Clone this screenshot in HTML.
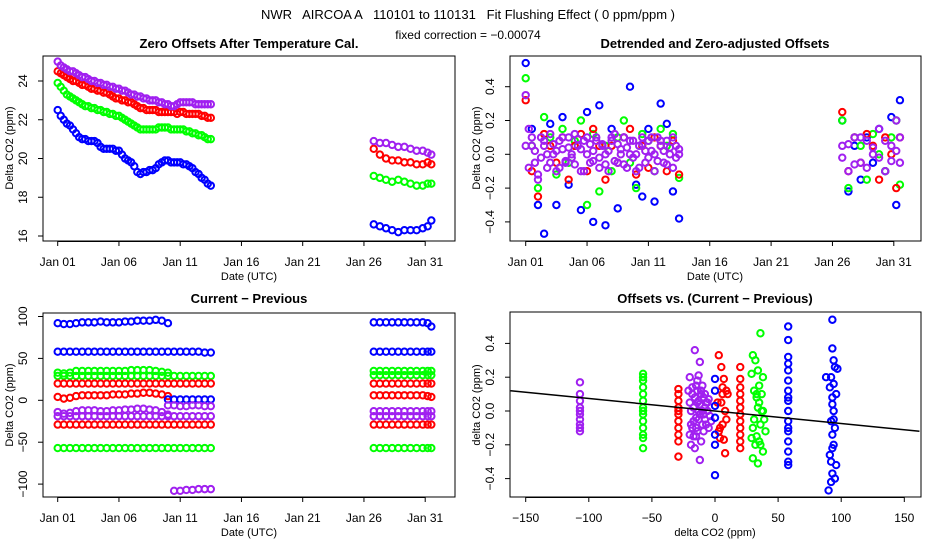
<!DOCTYPE html>
<html><head><meta charset="utf-8"><style>
html,body{margin:0;padding:0;background:#fff}
svg{display:block;font-family:"Liberation Sans",sans-serif}
</style></head><body>
<svg id="chart" width="936" height="540" viewBox="0 0 936 540" xmlns="http://www.w3.org/2000/svg">
<rect width="936" height="540" fill="#fff"/>
<text x="468" y="19" text-anchor="middle" font-size="13" xml:space="preserve">NWR   AIRCOA A   110101 to 110131   Fit Flushing Effect ( 0 ppm/ppm )</text>
<text x="468" y="39" text-anchor="middle" font-size="12">fixed correction = −0.00074</text>
<g id="g"></g>
</svg>
<script>
// ---- shared time axes (days since Jan 01) ----
const t1 = [0,0.5,1,1.5,2,2.5,3,3.5,4,4.5,5,5.5,6,6.5,7,7.5,8,8.5,9,9.5,10,10.5,11,11.5,12,12.5];
const t1a = [0,0.5,1,1.5,2,2.5,3,3.5,4,4.5,5,5.5,6,6.5,7,7.5,8,8.5,9];
const t1b = [9,9.5,10,10.5,11,11.5,12,12.5];
const t1c = [9.5,10,10.5,11,11.5,12,12.5];
const t2 = [25.8,26.3,26.8,27.3,27.8,28.3,28.8,29.3,29.8,30.2,30.5];
const tq = [0,0.25,0.5,0.75,1,1.25,1.5,1.75,2,2.25,2.5,2.75,3,3.25,3.5,3.75,4,4.25,4.5,4.75,5,5.25,5.5,5.75,6,6.25,6.5,6.75,7,7.25,7.5,7.75,8,8.25,8.5,8.75,9,9.25,9.5,9.75,10,10.25,10.5,10.75,11,11.25,11.5,11.75,12,12.25,12.5];
const dateTickDays = [0,5,10,15,20,25,30];
const dateTickLabels = ["Jan 01","Jan 06","Jan 11","Jan 16","Jan 21","Jan 26","Jan 31"];

// ---- panel 1: zero offsets ----
const p1Purple1 = [25.0,24.8,24.7,24.6,24.5,24.5,24.4,24.3,24.2,24.2,24.1,24.0,24.0,23.9,23.9,23.8,23.8,23.7,23.7,23.6,23.6,23.5,23.5,23.4,23.3,23.3,23.2,23.2,23.1,23.1,23.0,23.0,23.0,22.9,22.9,22.8,22.8,22.7,22.7,22.8,22.9,22.9,22.9,22.9,22.9,22.8,22.8,22.8,22.8,22.8,22.8];
const p1Red1 = [24.5,24.4,24.3,24.2,24.1,24.0,24.0,23.9,23.8,23.8,23.7,23.6,23.6,23.5,23.5,23.4,23.4,23.3,23.2,23.1,23.1,23.0,23.0,22.9,22.9,22.8,22.7,22.6,22.6,22.5,22.5,22.5,22.5,22.4,22.4,22.4,22.4,22.4,22.4,22.3,22.4,22.4,22.3,22.3,22.3,22.3,22.3,22.2,22.2,22.1,22.1];
const p1Green1 = [23.9,23.7,23.5,23.3,23.2,23.1,23.0,22.9,22.8,22.7,22.7,22.6,22.6,22.5,22.5,22.4,22.4,22.3,22.3,22.2,22.2,22.1,22.0,21.9,21.8,21.7,21.6,21.5,21.5,21.5,21.5,21.5,21.5,21.6,21.6,21.6,21.6,21.5,21.5,21.5,21.5,21.5,21.4,21.4,21.3,21.3,21.2,21.2,21.1,21.0,21.0];
const p1Blue1 = [22.5,22.2,22.0,21.8,21.7,21.5,21.3,21.1,21.0,21.0,20.9,20.9,20.9,20.8,20.6,20.5,20.5,20.5,20.5,20.4,20.4,20.2,20.0,19.9,19.8,19.6,19.3,19.2,19.3,19.3,19.4,19.4,19.5,19.7,19.8,19.9,19.9,19.8,19.8,19.8,19.8,19.7,19.7,19.6,19.5,19.3,19.2,19.0,18.9,18.7,18.6];
const p1Purple2 = [20.9,20.8,20.8,20.7,20.6,20.6,20.5,20.4,20.4,20.3,20.2];
const p1Red2 = [20.5,20.2,20.0,19.9,19.9,19.8,19.8,19.7,19.7,19.8,19.7];
const p1Green2 = [19.1,19.0,18.9,18.8,18.9,18.8,18.7,18.6,18.6,18.7,18.7];
const p1Blue2 = [16.6,16.5,16.4,16.3,16.2,16.3,16.3,16.3,16.4,16.5,16.8];
const p1YTicks = [16,18,20,22,24];

// ---- panel 2: detrended offsets ----
const p2Blue1 = [0.54,0.15,-0.3,-0.47,0.18,-0.3,0.22,-0.18,0.05,-0.33,0.25,-0.4,0.29,-0.42,0.15,-0.32,0.1,0.4,-0.18,-0.25,0.15,-0.28,0.3,0.18,-0.22,-0.38];
const p2Green1 = [0.45,0.05,-0.2,0.22,0.1,-0.12,0.15,-0.05,0.08,0.2,-0.3,0.12,-0.22,0.05,-0.1,0.1,0.2,-0.05,-0.2,0.12,0.08,-0.1,0.15,0.05,0.12,-0.14];
const p2Red1 = [0.32,-0.1,-0.25,0.12,0.05,-0.05,0.1,-0.15,0.05,0.12,-0.1,0.15,0.05,-0.15,0.05,-0.05,0.1,0.15,-0.12,0.05,-0.08,0.1,0.05,-0.1,0.08,-0.12];
const p2Purple1 = [0.35,0.15,0.05,-0.05,-0.15,0.1,0.05,-0.08,0.12,0.0,-0.1,0.08,0.03,-0.05,0.1,-0.02,0.12,0.05,-0.1,0.08,0.1,-0.05,0.02,0.1,-0.08,0.05,0.0,-0.1,0.08,0.12,-0.05,0.03,0.1,-0.08,0.0,0.08,-0.1,0.05,0.1,-0.05,0.08,0.02,-0.1,0.1,0.05,-0.05,0.08,0.0,-0.08,0.05,0.03];
const p2Purple1b = [0.05,-0.08,0.1,0.02,-0.12,-0.02,0.08,0.0,-0.05,0.06,0.02,-0.08,0.1,-0.04,0.04,0.0,-0.06,0.09,0.03,-0.1,0.0,0.06,-0.04,0.08,-0.02,0.06,-0.06,0.02,0.1,-0.04,0.06,0.0,-0.06,0.04,0.08,-0.02,0.0,-0.08,0.06,0.02,-0.02,0.1,0.0,-0.04,0.08,0.02,-0.06,0.04,0.1,-0.02,0.0];
const p2Blue2 = [0.2,-0.22,0.05,-0.15,0.1,-0.05,0.15,-0.1,0.22,-0.3,0.32];
const p2Green2 = [0.2,-0.2,0.1,0.05,-0.15,0.12,0.0,-0.1,0.1,0.2,-0.18];
const p2Red2 = [0.25,-0.1,0.1,-0.05,0.12,0.05,-0.15,0.1,0.0,-0.2,0.1];
const p2Purple2 = [0.05,-0.1,0.1,-0.05,0.08,0.0,0.15,-0.1,0.05,0.2,-0.05];
const p2Purple2b = [-0.02,0.06,-0.06,0.1,-0.08,0.04,-0.02,0.08,-0.04,0.02,0.1];
const offYTicks = [-0.4,-0.2,0,0.2,0.4];
const offYLabels = ["−0.4","−0.2","0.0","0.2","0.4"];

// ---- panel 3: current - previous ----
const p3B93a = [92,91,91,92,93,93,93,94,93,93,93,94,94,95,95,95,96,95,92];
const p3B58a = [58,58,58,58,58,58,58,58,58,58,58,58,58,58,58,58,58,58,58,58,58,58,58,58,57,57];
const p3G33a = [33,32,33,35,35,35,35,35,35,35,35,35,36,36,36,36,35,34,33];
const p3G29a = [29,29,29,29,29,29,29,29,29,29,29,29,29,29,29,29,29,29,29,29,29,29,29,29,29,29];
const p3R20a = [20,20,20,20,20,20,20,20,20,20,20,20,20,20,20,20,20,20,20,20,20,20,20,20,20,20];
const p3R5a = [4,2,3,5,6,6,6,6,6,7,7,7,8,8,9,9,8,7,5];
const p3B0a = [1,1,1,1,1,1,1,1];
const p3P7a = [-6,-6,-7,-7,-6,-6,-7,-7];
const p3P15a = [-14,-16,-15,-13,-12,-12,-12,-13,-13,-12,-12,-11,-11,-10,-10,-11,-12,-14,-17];
const p3P19a = [-19,-19,-19,-19,-19,-19,-19,-19,-19,-19,-19,-19,-19,-19,-19,-19,-19,-19,-19,-19,-19,-19,-19,-19,-19,-19];
const p3R29a = [-29,-29,-29,-29,-29,-29,-29,-29,-29,-29,-29,-29,-29,-29,-29,-29,-29,-29,-29,-29,-29,-29,-29,-29,-29,-29];
const p3G57a = [-57,-57,-57,-57,-57,-57,-57,-57,-57,-57,-57,-57,-57,-57,-57,-57,-57,-57,-57,-57,-57,-57,-57,-57,-57,-57];
const p3P107a = [-108,-108,-107,-107,-106,-106,-106];
const p3B93b = [93,93,93,93,93,93,93,93,93,92,88];
const p3B58b = [58,58,58,58,58,58,58,58,58,58,58];
const p3G35b = [35,35,35,35,35,35,35,35,35,35,35];
const p3G29b = [30,30,30,30,30,30,30,30,30,30,30];
const p3R20b = [20,20,20,20,20,20,20,20,20,20,20];
const p3R6b = [6,6,6,6,6,6,6,6,6,5,4];
const p3P13b = [-13,-13,-13,-13,-13,-13,-13,-13,-13,-13,-13];
const p3P19b = [-19,-19,-19,-19,-19,-19,-19,-19,-19,-19,-19];
const p3R29b = [-29,-29,-29,-29,-29,-29,-29,-29,-29,-29,-29];
const p3G57b = [-57,-57,-57,-57,-57,-57,-57,-57,-57,-57,-57];
const p3YTicks = [-100,-50,0,50,100];

// ---- panel 4: offsets vs current-previous ----
const p4PurpleX = [-107,-107,-107,-107,-107,-107,-107,-107,-107,-107,-20,-18,-16,-15,-14,-13,-12,-11,-10,-9,-8,-7,-6,-5,-19,-17,-15,-13,-11,-9,-7,-5,-20,-16,-14,-12,-10,-8,-18,-14,-12,-15,-13,-4,-21,-19,-17,-16,-14,-12,-10,-8,-20,-18,-15,-13,-11,-9,-17,-19,-6,-3];
const p4PurpleY = [0.17,0.1,0.06,0.02,-0.02,-0.05,-0.08,-0.1,-0.12,0.0,0.2,0.1,0.36,0.15,0.05,0.21,0.29,0.1,0.0,0.08,-0.05,0.05,0.0,-0.1,-0.2,-0.15,-0.1,-0.05,-0.18,-0.12,-0.08,0.07,0.05,-0.22,0.12,-0.29,0.15,0.02,-0.1,0.18,-0.02,-0.15,0.0,-0.03,0.12,0.0,-0.06,0.08,-0.12,0.04,-0.08,0.1,-0.14,0.14,-0.04,0.06,0.12,-0.02,0.02,-0.08,0.05,-0.06];
const p4GreenX = [-57,-57,-57,-57,-57,-57,-57,-57,-57,-57,-57,-57,-57,-57,30,32,34,36,38,29,31,33,35,37,39,30,33,36,38,32,34,35,37,30,31,33,36,38,40,35,29,34];
const p4GreenY = [0.22,0.18,0.14,0.1,0.06,0.02,-0.02,-0.06,-0.1,-0.14,-0.16,0.2,-0.22,0.0,0.33,0.3,0.24,0.46,0.2,0.22,0.12,0.08,0.05,0.0,-0.05,-0.1,-0.15,-0.2,-0.24,-0.2,-0.31,0.15,0.1,-0.28,-0.05,0.1,-0.08,0.0,-0.12,-0.18,-0.16,0.02];
const p4RedX = [-29,-29,-29,-29,-29,-29,-29,-29,-29,-29,-29,2,3,4,5,6,7,8,9,10,4,6,8,5,7,3,9,6,20,20,20,20,20,20,20,20,20,20,20,20];
const p4RedY = [0.13,0.1,0.06,0.02,-0.02,-0.06,-0.1,-0.14,-0.18,-0.27,0.0,0.05,0.33,-0.1,0.26,0.1,0.19,0.0,-0.05,0.1,-0.16,-0.08,-0.25,0.05,-0.17,-0.12,0.12,0.14,0.26,0.19,0.14,0.1,0.06,0.02,-0.02,-0.06,-0.1,-0.14,-0.22,-0.18];
const p4BlueX = [0,0,0,0,0,0,0,58,58,58,58,58,58,58,58,58,58,58,58,58,58,58,58,58,93,93,94,95,92,91,96,93,94,92,95,93,94,91,96,93,92,95,94,93,88,90,97,92,93,94];
const p4BlueY = [0.19,0.12,0.03,-0.04,-0.14,-0.2,-0.38,0.5,0.42,0.32,0.24,0.18,0.12,0.06,0.0,-0.06,-0.12,-0.18,-0.24,-0.3,-0.32,0.28,0.08,-0.1,0.54,0.37,0.3,0.26,0.2,0.14,0.1,0.04,0.0,-0.06,-0.1,-0.14,-0.2,-0.26,-0.32,-0.37,-0.42,-0.4,0.16,-0.22,0.2,-0.47,0.25,-0.3,0.08,-0.05];
const p4XTicks = [-150,-100,-50,0,50,100,150];
const p4XLabels = ["−150","−100","−50","0","50","100","150"];
const fitSlope = -0.00074;
const fitIntercept = 0.0;
const fitXRange = [-162,162];

const BLUE="#0000ff",RED="#ff0000",GREEN="#00ff00",PURPLE="#a020f0";
const NS="http://www.w3.org/2000/svg";
const root=document.getElementById('g');
function el(tag,attrs,parent){const e=document.createElementNS(NS,tag);for(const k in attrs)e.setAttribute(k,attrs[k]);(parent||root).appendChild(e);return e;}

const xDayL=d=>57.7+12.25*d;
const xDayR=d=>525.7+12.27*d;
const y1=v=>81+(24-v)*19.375;
const y2=v=>154.3-v*169;
const y3=v=>400.3-v*0.838;
const x4=v=>715+1.262*v;
const y4=v=>411-v*169;

function frame(name,L,T,R,B){
  const r=el('rect',{x:L,y:T,width:R-L,height:B-T,fill:'none',stroke:'#000','stroke-width':1});
  
  
}
function title(name,txt,cx,y){
  const t=el('text',{x:cx,y:y,'text-anchor':'middle','font-size':13,'font-weight':'bold'});t.textContent=txt;
  
  
}
function yAxis(name,L,ticks,labels,sy,titleTxt,titleX,cy){
  const g=el('g',{});
  
  
  el('line',{x1:L,x2:L,y1:sy(ticks[0]),y2:sy(ticks[ticks.length-1]),stroke:'#000'},g);
  ticks.forEach((v,i)=>{
    el('line',{x1:L-5,x2:L,y1:sy(v),y2:sy(v),stroke:'#000'},g);
    const t=el('text',{x:0,y:0,'text-anchor':'middle','font-size':12,transform:`translate(${L-16},${sy(v)}) rotate(-90)`},g);
    t.textContent=labels[i];
  });
  const tt=el('text',{x:0,y:0,'text-anchor':'middle','font-size':11,transform:`translate(${titleX},${cy}) rotate(-90)`},g);
  tt.textContent=titleTxt;
}
function xAxis(name,B,ticks,labels,sx,titleTxt,cx){
  const g=el('g',{});
  
  
  el('line',{x1:sx(ticks[0]),x2:sx(ticks[ticks.length-1]),y1:B+0.5,y2:B+0.5,stroke:'#000'},g);
  ticks.forEach((v,i)=>{
    el('line',{x1:sx(v),x2:sx(v),y1:B,y2:B+5,stroke:'#000'},g);
    const t=el('text',{x:sx(v),y:B+25,'text-anchor':'middle','font-size':12},g);
    t.textContent=labels[i];
  });
  const tt=el('text',{x:cx,y:B+39,'text-anchor':'middle','font-size':11},g);
  tt.textContent=titleTxt;
}
function series(name,xs,ys,sx,sy,color){
  const g=el('g',{fill:'none',stroke:color,'stroke-width':2});
  
  
  for(let i=0;i<Math.min(xs.length,ys.length);i++){
    el('circle',{cx:sx(xs[i]),cy:sy(ys[i]),r:3.2},g);
  }
}
function clip(id,L,T,R,B){const c=el('clipPath',{id:id});el('rect',{x:L,y:T,width:R-L,height:B-T},c);}

// ---- Panel 1 ----
title('panel1-title','Zero Offsets After Temperature Cal.',249,48);
yAxis('panel1-y-axis',43,p1YTicks,p1YTicks.map(String),y1,'Delta CO2 (ppm)',13,148);
xAxis('panel1-x-axis',241,dateTickDays,dateTickLabels,xDayL,'Date (UTC)',249);
series('p1-blue-seg1',tq,p1Blue1,xDayL,y1,BLUE);
series('p1-green-seg1',tq,p1Green1,xDayL,y1,GREEN);
series('p1-red-seg1',tq,p1Red1,xDayL,y1,RED);
series('p1-purple-seg1',tq,p1Purple1,xDayL,y1,PURPLE);
series('p1-blue-seg2',t2,p1Blue2,xDayL,y1,BLUE);
series('p1-green-seg2',t2,p1Green2,xDayL,y1,GREEN);
series('p1-red-seg2',t2,p1Red2,xDayL,y1,RED);
series('p1-purple-seg2',t2,p1Purple2,xDayL,y1,PURPLE);
frame('panel1',43,56,455,241);

// ---- Panel 2 ----
title('panel2-title','Detrended and Zero-adjusted Offsets',715,48);
yAxis('panel2-y-axis',510,offYTicks,offYLabels,y2,'Delta CO2 (ppm)',480,148);
xAxis('panel2-x-axis',241,dateTickDays,dateTickLabels,xDayR,'Date (UTC)',715);
series('p2-blue-seg1',t1,p2Blue1,xDayR,y2,BLUE);
series('p2-green-seg1',t1,p2Green1,xDayR,y2,GREEN);
series('p2-red-seg1',t1,p2Red1,xDayR,y2,RED);
series('p2-purple-seg1',tq,p2Purple1,xDayR,y2,PURPLE);
series('p2-purple-seg1b',tq,p2Purple1b,xDayR,y2,PURPLE);
series('p2-blue-seg2',t2,p2Blue2,xDayR,y2,BLUE);
series('p2-green-seg2',t2,p2Green2,xDayR,y2,GREEN);
series('p2-red-seg2',t2,p2Red2,xDayR,y2,RED);
series('p2-purple-seg2',t2,p2Purple2,xDayR,y2,PURPLE);
series('p2-purple-seg2b',t2,p2Purple2b,xDayR,y2,PURPLE);
frame('panel2',510,56,921,241);

// ---- Panel 3 ----
title('panel3-title','Current − Previous',249,303);
yAxis('panel3-y-axis',43,p3YTicks,p3YTicks.map(v=>v<0?'−'+(-v):String(v)),y3,'Delta CO2 (ppm)',13,405);
xAxis('panel3-x-axis',497,dateTickDays,dateTickLabels,xDayL,'Date (UTC)',249);
series('p3-blue-93-seg1',t1a,p3B93a,xDayL,y3,BLUE);
series('p3-blue-58-seg1',t1,p3B58a,xDayL,y3,BLUE);
series('p3-green-33-seg1',t1a,p3G33a,xDayL,y3,GREEN);
series('p3-green-29-seg1',t1,p3G29a,xDayL,y3,GREEN);
series('p3-red-20-seg1',t1,p3R20a,xDayL,y3,RED);
series('p3-red-5-seg1',t1a,p3R5a,xDayL,y3,RED);
series('p3-blue-0-seg1',t1b,p3B0a,xDayL,y3,BLUE);
series('p3-purple-7-seg1',t1b,p3P7a,xDayL,y3,PURPLE);
series('p3-purple-15-seg1',t1a,p3P15a,xDayL,y3,PURPLE);
series('p3-purple-19-seg1',t1,p3P19a,xDayL,y3,PURPLE);
series('p3-red-29-seg1',t1,p3R29a,xDayL,y3,RED);
series('p3-green-57-seg1',t1,p3G57a,xDayL,y3,GREEN);
series('p3-purple-107-seg1',t1c,p3P107a,xDayL,y3,PURPLE);
series('p3-blue-93-seg2',t2,p3B93b,xDayL,y3,BLUE);
series('p3-blue-58-seg2',t2,p3B58b,xDayL,y3,BLUE);
series('p3-green-35-seg2',t2,p3G35b,xDayL,y3,GREEN);
series('p3-green-29-seg2',t2,p3G29b,xDayL,y3,GREEN);
series('p3-red-20-seg2',t2,p3R20b,xDayL,y3,RED);
series('p3-red-6-seg2',t2,p3R6b,xDayL,y3,RED);
series('p3-purple-13-seg2',t2,p3P13b,xDayL,y3,PURPLE);
series('p3-purple-19-seg2',t2,p3P19b,xDayL,y3,PURPLE);
series('p3-red-29-seg2',t2,p3R29b,xDayL,y3,RED);
series('p3-green-57-seg2',t2,p3G57b,xDayL,y3,GREEN);
frame('panel3',43,313,455,497);

// ---- Panel 4 ----
title('panel4-title','Offsets vs. (Current − Previous)',715,303);
yAxis('panel4-y-axis',510,offYTicks,offYLabels,y4,'delta CO2 (ppm)',480,405);
xAxis('panel4-x-axis',497,p4XTicks,p4XLabels,x4,'delta CO2 (ppm)',715);
series('p4-purple-points',p4PurpleX,p4PurpleY,x4,y4,PURPLE);
series('p4-green-points',p4GreenX,p4GreenY,x4,y4,GREEN);
series('p4-red-points',p4RedX,p4RedY,x4,y4,RED);
series('p4-blue-points',p4BlueX,p4BlueY,x4,y4,BLUE);
clip('p4clip',510,312,921,497);
const fit=el('line',{x1:x4(fitXRange[0]),y1:y4(fitIntercept+fitSlope*fitXRange[0]),x2:x4(fitXRange[1]),y2:y4(fitIntercept+fitSlope*fitXRange[1]),stroke:'#000','stroke-width':1.5,'clip-path':'url(#p4clip)'});


frame('panel4',510,312,921,497);
</script>
</body></html>
